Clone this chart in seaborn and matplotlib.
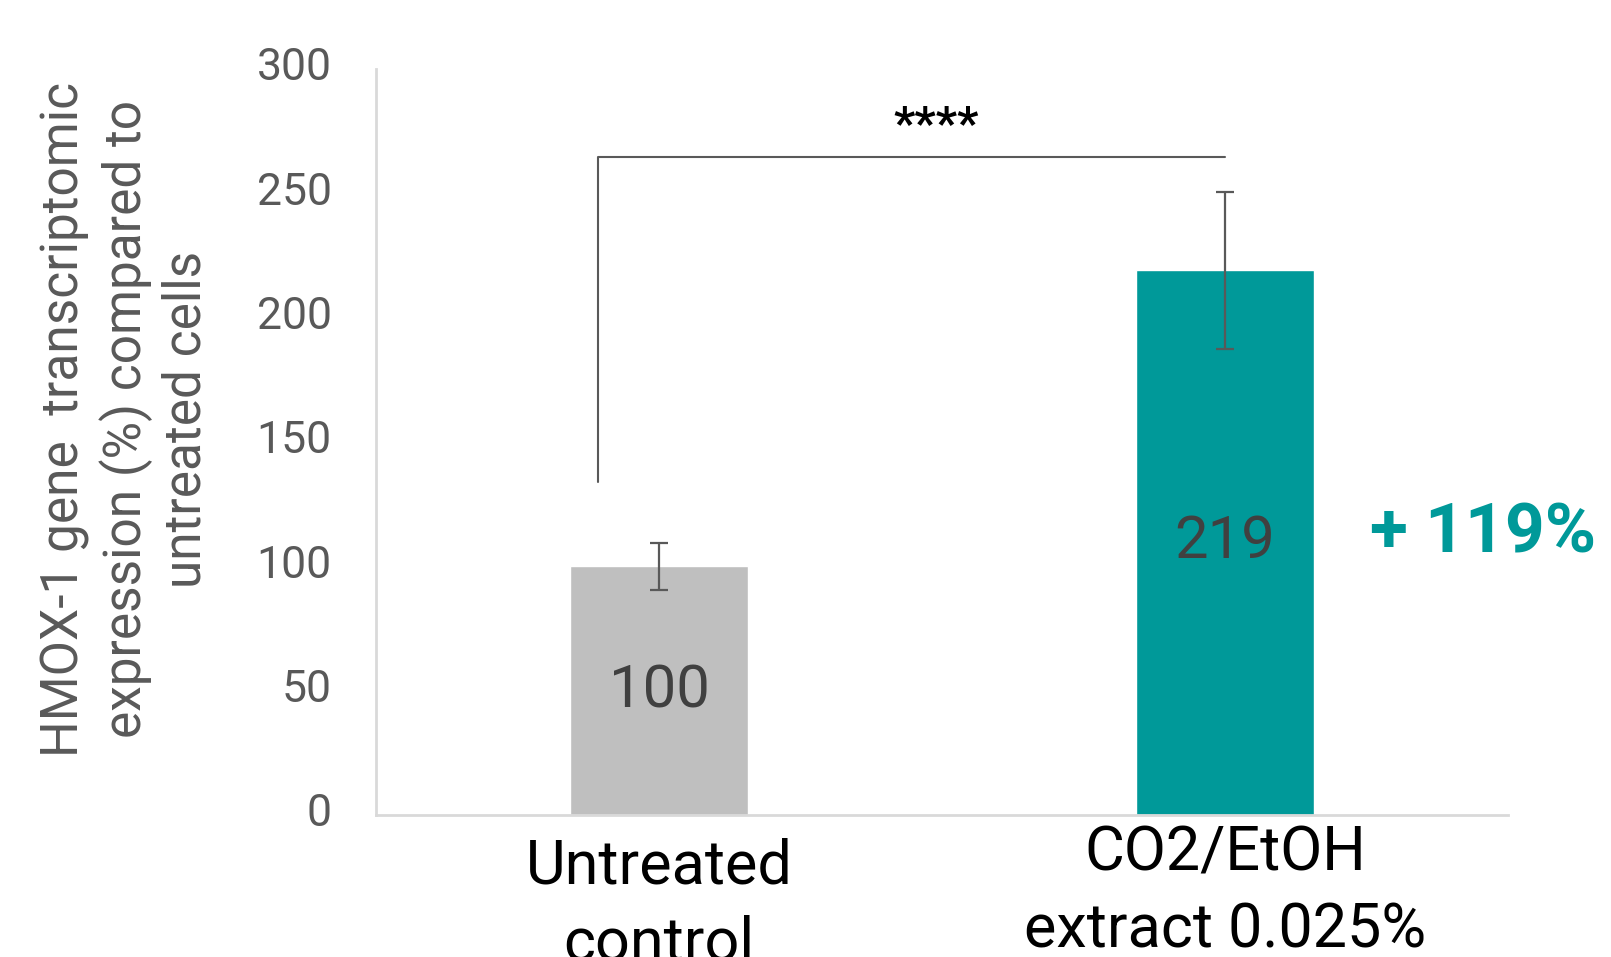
import matplotlib
matplotlib.use("Agg")
import matplotlib.pyplot as plt
import matplotlib.transforms as mtransforms
import seaborn as sns
import pandas as pd

categories = ["Untreated\ncontrol", "CO2/EtOH\nextract 0.025%"]
values = [100, 219]
errors = [9.5, 31.5]
bar_colors = ["#BFBFBF", "#009999"]
y_ticks = [0, 50, 100, 150, 200, 250, 300]
signif = "****"
increase_label = "+ 119%"

sns.set_theme(style="white")
plt.rcParams["font.family"] = ["Roboto", "DejaVu Sans"]

fig = plt.figure(figsize=(16.11, 9.57), dpi=100)
ax = fig.add_axes([0.2334, 0.1484, 0.7027, 0.7795])

df = pd.DataFrame({"cat": categories, "val": values})
sns.barplot(data=df, x="cat", y="val", hue="cat", palette=bar_colors,
            width=0.314, errorbar=None, legend=False, ax=ax, saturation=1)
ax.errorbar(range(len(values)), values, yerr=errors, fmt="none",
            ecolor="#595959", elinewidth=1.6, capsize=6.5, capthick=1.6, zorder=5)

ax.set_xlim(-0.5, 1.5)
ax.set_ylim(0, 300)
ax.set_yticks(y_ticks)
ax.set_yticklabels([str(t) for t in y_ticks], fontsize=32, color="#595959")
ax.tick_params(axis="x", labelsize=44, colors="black", length=0, pad=7)
ax.tick_params(axis="y", length=0, pad=32)
ax.set_xlabel("")
ax.set_ylabel("")

for lbl in ax.get_xticklabels():
    lbl.set_linespacing(1.4)
xl = ax.get_xticklabels()
xl[0].set_transform(xl[0].get_transform() +
                    mtransforms.ScaledTranslation(0, -13 / 100, fig.dpi_scale_trans))
for lbl in ax.get_yticklabels():
    lbl.set_transform(lbl.get_transform() +
                      mtransforms.ScaledTranslation(0, 5 / 100, fig.dpi_scale_trans))

for s in ["top", "right"]:
    ax.spines[s].set_visible(False)
for s in ["left", "bottom"]:
    ax.spines[s].set_color("#D9D9D9")
    ax.spines[s].set_linewidth(2)

# value labels
ax.text(0, 50, str(values[0]), ha="center", va="center", fontsize=43, color="#404040")
ax.text(1, 110, str(values[1]), ha="center", va="center", fontsize=43, color="#404040")

# significance bracket
ax.plot([-0.108, -0.108, 1.0], [134, 264.6, 264.6], color="#595959", lw=1.5, clip_on=False)
ax.text(0.489, 277, signif, ha="center", va="center", fontsize=34, color="black", fontweight="bold")

# increase annotation
ax.text(1.5 + (1370 - 1508) / 567, 113, increase_label, ha="left", va="center",
        fontsize=50, fontweight="bold", color="#009999", clip_on=False)

fig.text(0.078, 0.562,
         "HMOX-1 gene  transcriptomic\nexpression (%) compared to\nuntreated cells",
         rotation=90, ha="center", va="center", fontsize=37, color="#595959",
         linespacing=1.22, multialignment="center")

fig.savefig("out.png", dpi=100)
